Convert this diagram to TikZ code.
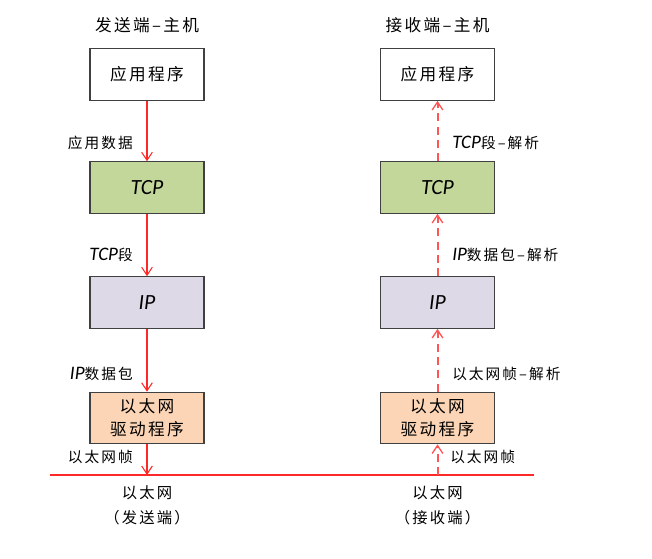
\documentclass[tikz,border=0pt]{standalone}
\usepackage{fontspec}
\setmainfont[LetterSpace=14]{Noto Sans CJK SC}
\newfontfamily\latinit[Scale=1.3]{Carlito}
\usepackage{tikz}
\usetikzlibrary{arrows.meta}

\definecolor{tcpgreen}{RGB}{196,215,155}
\definecolor{iplilac}{RGB}{221,217,231}
\definecolor{ethpeach}{RGB}{251,213,181}
\definecolor{boxgray}{RGB}{64,64,64}
\definecolor{wirered}{RGB}{255,40,40}
\definecolor{parsered}{RGB}{255,85,85}

\tikzset{
  layerbox/.style={draw=boxgray, line width=0.9pt, minimum width=85.5pt, minimum height=38.5pt, inner sep=0pt, align=center, font=\fontsize{12.5}{17}\selectfont},
  sendarrow/.style={draw=wirered, line width=0.8pt, -{Straight Barb[length=6pt,width=8pt]}},
  recvarrow/.style={draw=parsered, line width=1.5pt, dash pattern=on 6pt off 4pt, -{Straight Barb[length=6pt,width=8pt,line width=1pt]}},
  flowlabel/.style={inner sep=0.75pt, font=\fontsize{11}{13}\selectfont},
  titlelabel/.style={inner sep=0.75pt, font=\fontsize{12.5}{15}\selectfont},
}

\begin{document}
\begin{tikzpicture}[x=0.75pt,y=0.75pt,yscale=-1,xscale=1]
\useasboundingbox (0,0) rectangle (652,559);

%Titles
\draw (147,25) node [titlelabel] (sendTitle) {发送端–主机};
\draw (437.5,25) node [titlelabel] (recvTitle) {接收端–主机};

%Shape: sender stack
\draw (147,74.5) node [layerbox] (sendApp) {应用程序};
\draw (147,187.5) node [layerbox, fill=tcpgreen] (sendTcp) {\latinit\itshape TCP};
\draw (147,302.5) node [layerbox, fill=iplilac] (sendIp) {\latinit\itshape IP};
\draw (147,418) node [layerbox, fill=ethpeach] (sendDrv) {以太网\\驱动程序};

%Shape: receiver stack
\draw (437.5,74.5) node [layerbox] (recvApp) {应用程序};
\draw (437.5,187.5) node [layerbox, fill=tcpgreen] (recvTcp) {\latinit\itshape TCP};
\draw (437.5,302.5) node [layerbox, fill=iplilac] (recvIp) {\latinit\itshape IP};
\draw (437.5,418) node [layerbox, fill=ethpeach] (recvDrv) {以太网\\驱动程序};

%Straight Lines: ethernet wire
\coordinate (wireL) at (50,475);
\coordinate (wireR) at (534,475);
\coordinate (sendTap) at (147,475);
\coordinate (recvTap) at (437.5,475);
\draw [draw=wirered, line width=1.5pt] (wireL) -- (wireR);

%Straight Lines: sending side
\draw [sendarrow] (sendApp) -- (sendTcp);
\draw [sendarrow] (sendTcp) -- (sendIp);
\draw [sendarrow] (sendIp) -- (sendDrv);
\draw [sendarrow] (sendDrv) -- (sendTap);

%Straight Lines: receiving side
\draw [recvarrow] (recvTap) -- (recvDrv);
\draw [recvarrow] (recvDrv) -- (recvIp);
\draw [recvarrow] (recvIp) -- (recvTcp);
\draw [recvarrow] (recvTcp) -- (recvApp);

% Text Node
\draw (134,143) node [flowlabel, anchor=east] (lblAppData) {应用数据};
\draw (134,255) node [flowlabel, anchor=east] (lblTcpSeg) {{\latinit\itshape TCP}段};
\draw (134,374) node [flowlabel, anchor=east] (lblIpPkt) {{\latinit\itshape IP}数据包};
\draw (134,457) node [flowlabel, anchor=east] (lblFrameS) {以太网帧};
\draw (451,143) node [flowlabel, anchor=west] (lblTcpParse) {{\latinit\itshape TCP}段–解析};
\draw (451,255) node [flowlabel, anchor=west] (lblIpParse) {{\latinit\itshape IP}数据包–解析};
\draw (451,374) node [flowlabel, anchor=west] (lblFrameParse) {以太网帧–解析};
\draw (449,457) node [flowlabel, anchor=west] (lblFrameR) {以太网帧};

% Text Node
\draw (147,505.5) node [flowlabel, align=center, font=\fontsize{11.5}{19}\selectfont] (sendWire) {以太网\\（发送端）};
\draw (437.5,505.5) node [flowlabel, align=center, font=\fontsize{11.5}{19}\selectfont] (recvWire) {以太网\\（接收端）};

\end{tikzpicture}
\end{document}
